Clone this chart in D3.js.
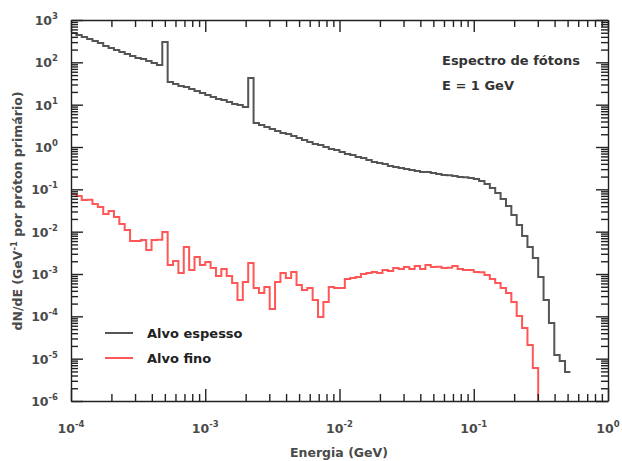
<!DOCTYPE html>
<html>
<head>
<meta charset="utf-8">
<script src="https://cdn.jsdelivr.net/npm/d3@7"></script>
<style>
  body { margin: 0; background: #fff; }
  text { font-family: "DejaVu Sans", Verdana, sans-serif; }
</style>
</head>
<body>
<svg id="chart" width="622" height="461"></svg>
<script>
// bin lower edges (GeV), 25 bins per decade
const binEdges = [
  1.000e-4, 1.096e-4, 1.202e-4, 1.318e-4, 1.445e-4, 1.585e-4, 1.738e-4, 1.905e-4, 2.089e-4, 2.291e-4,
  2.512e-4, 2.754e-4, 3.020e-4, 3.311e-4, 3.631e-4, 3.981e-4, 4.365e-4, 4.786e-4, 5.248e-4, 5.754e-4,
  6.310e-4, 6.918e-4, 7.586e-4, 8.318e-4, 9.120e-4,
  1.000e-3, 1.096e-3, 1.202e-3, 1.318e-3, 1.445e-3, 1.585e-3, 1.738e-3, 1.905e-3, 2.089e-3, 2.291e-3,
  2.512e-3, 2.754e-3, 3.020e-3, 3.311e-3, 3.631e-3, 3.981e-3, 4.365e-3, 4.786e-3, 5.248e-3, 5.754e-3,
  6.310e-3, 6.918e-3, 7.586e-3, 8.318e-3, 9.120e-3,
  1.000e-2, 1.096e-2, 1.202e-2, 1.318e-2, 1.445e-2, 1.585e-2, 1.738e-2, 1.905e-2, 2.089e-2, 2.291e-2,
  2.512e-2, 2.754e-2, 3.020e-2, 3.311e-2, 3.631e-2, 3.981e-2, 4.365e-2, 4.786e-2, 5.248e-2, 5.754e-2,
  6.310e-2, 6.918e-2, 7.586e-2, 8.318e-2, 9.120e-2,
  1.000e-1, 1.096e-1, 1.202e-1, 1.318e-1, 1.445e-1, 1.585e-1, 1.738e-1, 1.905e-1, 2.089e-1, 2.291e-1,
  2.512e-1, 2.754e-1, 3.020e-1, 3.311e-1, 3.631e-1, 3.981e-1, 4.365e-1, 4.786e-1, 5.248e-1
];

// Alvo espesso (thick target), dN/dE per bin
const thickValues = [
  493, 442, 397, 356, 319, 286, 243, 218, 196, 175,
  157, 141, 127, 120, 107, 96, 86, 302, 34.3, 30.8,
  27.6, 26.1, 23.4, 21.0, 18.9, 16.9, 15.2, 13.6, 12.9, 11.6,
  10.4, 9.8, 8.8, 42.6, 3.69, 3.31, 2.97, 2.66, 2.39, 2.14,
  2.03, 1.82, 1.63, 1.46, 1.31, 1.18, 1.11, 1.00, 0.897, 0.849,
  0.761, 0.683, 0.647, 0.580, 0.549, 0.493, 0.442, 0.418, 0.396, 0.356,
  0.337, 0.319, 0.302, 0.286, 0.271, 0.257, 0.255, 0.243, 0.230, 0.218,
  0.215, 0.206, 0.195, 0.193, 0.185, 0.175, 0.157, 0.134, 0.107, 0.0818,
  0.0590, 0.0403, 0.0247, 0.0144, 0.00789, 0.00434, 0.00238, 0.000848, 0.000243, 6.95e-5,
  1.22e-5, 8.79e-6, 4.83e-6
];

// Alvo fino (thin target)
const thinValues = [
  0.0775, 0.0696, 0.0559, 0.057, 0.0450, 0.0382, 0.0261, 0.0307, 0.0222, 0.0152,
  0.0109, 0.00601, 0.0060, 0.00635, 0.00369, 0.00635, 0.0064, 0.00981, 0.00163, 0.00203,
  0.00105, 0.00434, 0.00124, 0.00252, 0.00163, 0.00192, 0.00138, 0.000896, 0.00131, 0.000896,
  0.000612, 0.000243, 0.000646, 0.00182, 0.000467, 0.000355, 0.000493, 0.000149, 0.000646, 0.00105,
  0.000804, 0.00111, 0.000549, 0.000418, 0.000467, 0.000243, 9.63e-5, 0.000218, 0.000493, 0.000467,
  0.00047, 0.000761, 0.000804, 0.000848, 0.000999, 0.00105, 0.00111, 0.00105, 0.00124, 0.00118,
  0.00138, 0.00131, 0.00146, 0.00131, 0.00154, 0.00131, 0.00163, 0.00146, 0.00148, 0.00138,
  0.00140, 0.00154, 0.00131, 0.00124, 0.00125, 0.00111, 0.00110, 0.000946, 0.000761, 0.000612,
  0.000467, 0.000355, 0.000218, 0.000102, 5.29e-5, 2.10e-5, 6.01e-6
];

const xMajorTicks = [1e-4, 1e-3, 1e-2, 1e-1, 1];
const xTickExp = ["-4", "-3", "-2", "-1", "0"];
const yMajorTicks = [1e3, 1e2, 1e1, 1e0, 1e-1, 1e-2, 1e-3, 1e-4, 1e-5, 1e-6];
const yTickExp = ["3", "2", "1", "0", "-1", "-2", "-3", "-4", "-5", "-6"];

const seriesNames = ["Alvo espesso", "Alvo fino"];
const seriesColors = ["#555555", "#ff5757"];

const plotL = 71, plotR = 608, plotT = 20, plotB = 401;

const svg = d3.select("#chart");

const x = d3.scaleLog().domain([1e-4, 1]).range([plotL, plotR]);
const y = d3.scaleLog().domain([1e-6, 1e3]).range([plotB, plotT]);

svg.append("clipPath").attr("id", "plot-clip")
  .append("rect")
  .attr("x", plotL).attr("y", plotT)
  .attr("width", plotR - plotL).attr("height", plotB - plotT);

// step lines
const line = d3.line()
  .x(d => x(d[0]))
  .y(d => y(d[1]))
  .curve(d3.curveStepAfter);

const thickPts = thickValues.map((v, i) => [binEdges[i], v]);
thickPts.push([binEdges[thickValues.length], thickValues[thickValues.length - 1]]);

const thinPts = thinValues.map((v, i) => [binEdges[i], v]);
// last bin falls off below the axis
thinPts.push([binEdges[thinValues.length], 1e-8]);

const plot = svg.append("g").attr("clip-path", "url(#plot-clip)");
[thickPts, thinPts].forEach((pts, k) => {
  plot.append("path")
    .datum(pts)
    .attr("fill", "none")
    .attr("stroke", seriesColors[k])
    .attr("stroke-width", 2)
    .attr("d", line);
});

// axes: ticks pointing inward on all four sides
const xMinor = x.ticks().filter(t => !xMajorTicks.some(m => Math.abs(m - t) / m < 1e-6));
const yMinor = y.ticks().filter(t => !yMajorTicks.some(m => Math.abs(m - t) / m < 1e-6));

function drawAxis(axisFn, scale, pos, majors, minors, dir) {
  const tr = dir === "x" ? `translate(0,${pos})` : `translate(${pos},0)`;
  const gMaj = svg.append("g").attr("transform", tr)
    .call(axisFn(scale).tickValues(majors).tickSizeInner(-12).tickSizeOuter(0).tickFormat(""));
  const gMin = svg.append("g").attr("transform", tr)
    .call(axisFn(scale).tickValues(minors).tickSizeInner(-7).tickSizeOuter(0).tickFormat(""));
  gMin.select(".domain").remove();
  [gMaj, gMin].forEach(g => {
    g.selectAll("line").attr("stroke", "#222").attr("stroke-width", 1.4);
    g.select(".domain").attr("stroke", "#222").attr("stroke-width", 1.4);
  });
}
drawAxis(d3.axisBottom, x, plotB, xMajorTicks, xMinor, "x");
drawAxis(d3.axisTop, x, plotT, xMajorTicks, xMinor, "x");
drawAxis(d3.axisLeft, y, plotL, yMajorTicks, yMinor, "y");
drawAxis(d3.axisRight, y, plotR, yMajorTicks, yMinor, "y");

// tick labels 10^n
const labelStyle = t => t.attr("font-size", 12.5).attr("font-weight", "bold").attr("fill", "#4a4a4a");

xMajorTicks.forEach((v, i) => {
  const t = svg.append("text")
    .attr("x", x(v)).attr("y", 433)
    .attr("text-anchor", "middle")
    .call(labelStyle);
  t.append("tspan").text("10");
  t.append("tspan").attr("dy", -6).attr("font-size", 8.5).text(xTickExp[i]);
});

yMajorTicks.forEach((v, i) => {
  const t = svg.append("text")
    .attr("x", 58).attr("y", y(v) + 5)
    .attr("text-anchor", "end")
    .call(labelStyle);
  t.append("tspan").text("10");
  t.append("tspan").attr("dy", -6).attr("font-size", 8.5).text(yTickExp[i]);
});

// axis titles
svg.append("text")
  .attr("x", 339).attr("y", 457)
  .attr("text-anchor", "middle")
  .attr("font-size", 12.5).attr("font-weight", "bold").attr("fill", "#4a4a4a")
  .text("Energia (GeV)");

const yTitle = svg.append("text")
  .attr("transform", "translate(22,211) rotate(-90)")
  .attr("text-anchor", "middle")
  .attr("font-size", 12.5).attr("font-weight", "bold").attr("fill", "#4a4a4a");
yTitle.append("tspan").text("dN/dE (GeV");
yTitle.append("tspan").attr("dy", -5).attr("font-size", 8.5).text("-1");
yTitle.append("tspan").attr("dy", 5).text(" por próton primário)");

// annotation
svg.append("text")
  .attr("x", 442).attr("y", 65)
  .attr("font-family", "'Open Sans', sans-serif")
  .attr("font-size", 13).attr("font-weight", 600).attr("fill", "#333")
  .text("Espectro de fótons");
svg.append("text")
  .attr("x", 442).attr("y", 90)
  .attr("font-family", "'Open Sans', sans-serif")
  .attr("font-size", 13).attr("font-weight", 600).attr("fill", "#333")
  .text("E = 1 GeV");

// legend
const legend = svg.append("g");
seriesNames.forEach((name, i) => {
  const ly = 333 + i * 25;
  legend.append("line")
    .attr("x1", 105).attr("x2", 133)
    .attr("y1", ly).attr("y2", ly)
    .attr("stroke", seriesColors[i]).attr("stroke-width", 2);
  legend.append("text")
    .attr("x", 147).attr("y", ly + 5)
    .attr("font-family", "'Open Sans', sans-serif")
    .attr("font-size", 13).attr("font-weight", 600).attr("fill", "#222")
    .text(name);
});
</script>
</body>
</html>
